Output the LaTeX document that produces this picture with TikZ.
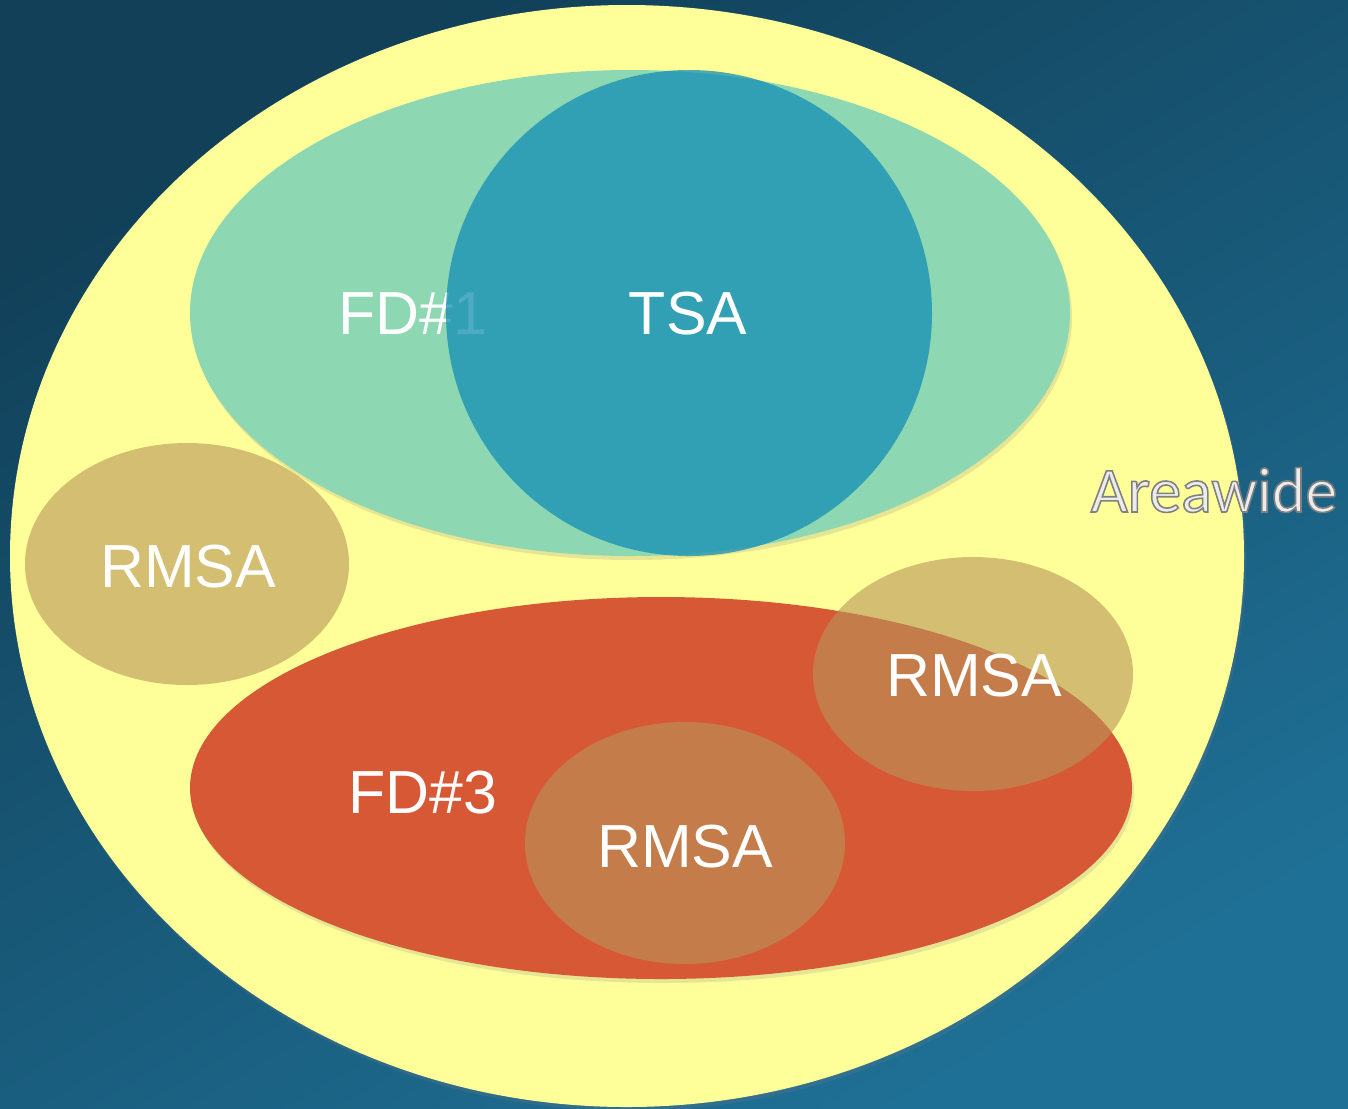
\documentclass[tikz,border=0pt]{standalone}
\usepackage{fontspec}
\setmainfont{Liberation Sans}
\newfontfamily\areafont{Carlito}
\usetikzlibrary{shadows}
\definecolor{bgtop}{RGB}{17,64,88}
\definecolor{bgbot}{RGB}{31,112,150}
\definecolor{areayellow}{RGB}{255,255,153}
\definecolor{fdgreen}{RGB}{141,215,178}
\definecolor{tsablue}{RGB}{19,142,181}
\definecolor{fdred}{RGB}{215,88,53}
\definecolor{rmsatan}{RGB}{183,148,88}
\definecolor{silver}{RGB}{236,236,236}
\tikzset{
  lbl/.style={text=white, inner sep=0pt, font=\fontsize{17.3}{20}\selectfont},
  arealbl/.style={text=silver, inner sep=0pt, font=\areafont\fontsize{18.2}{21}\selectfont},
  soft/.style={drop shadow={opacity=0.2, shadow xshift=0.02cm, shadow yshift=-0.04cm}},
  rmsa/.style={fill=rmsatan, fill opacity=0.6},
}
\begin{document}
\begin{tikzpicture}[x=0.01cm,y=-0.01cm]
\useasboundingbox (0,0) rectangle (1348,1108);
% background
\shade[top color=bgtop, bottom color=bgbot, shading angle=30] (0,0) rectangle (1348,1108);
% areawide
\fill[areayellow, soft] (627,556) ellipse [x radius=617, y radius=551];
% FD#1
\fill[fdgreen, soft] (630,313) ellipse [x radius=440, y radius=243];
\node[lbl] (fd1) at (413,314) {FD\#1};
% TSA
\fill[tsablue, fill opacity=0.75] (689,313) ellipse [x radius=243, y radius=243];
\node[lbl] (tsa) at (688,314) {TSA};
% RMSA left
\fill[rmsa] (187,564) ellipse [x radius=162, y radius=121];
\node[lbl] (rmsa1) at (188,567) {RMSA};
% FD#3
\fill[fdred, soft] (661,788) ellipse [x radius=471, y radius=191];
\node[lbl] (fd3) at (423,793) {FD\#3};
% RMSA right
\fill[rmsa] (973,674) ellipse [x radius=160, y radius=117];
\node[lbl] (rmsa2) at (974,676) {RMSA};
% RMSA middle
\fill[rmsa] (685,843) ellipse [x radius=160, y radius=121];
\node[lbl] (rmsa3) at (685,847) {RMSA};
% Areawide label
\node[arealbl, anchor=base] (area) at (1214,512) {\special{pdf:literal 2 Tr 0.45 w 0.5 0.5 0.5 RG}Areawide\special{pdf:literal 0 Tr}};
\end{tikzpicture}
\end{document}
